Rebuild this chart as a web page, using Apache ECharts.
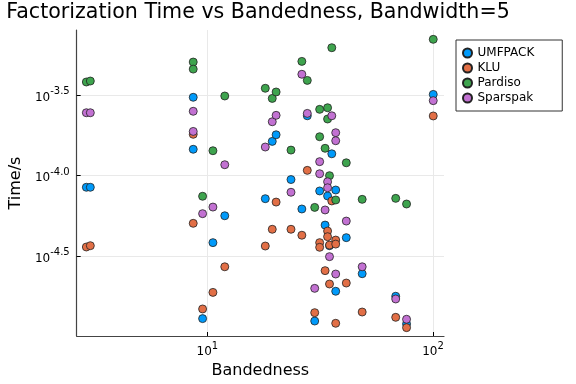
<!DOCTYPE html>
<html>
<head>
<meta charset="utf-8">
<script src="https://cdn.jsdelivr.net/npm/echarts@6/dist/echarts.min.js"></script>
<style>html,body{margin:0;padding:0;background:#fff;}#c{width:576px;height:384px;}</style>
</head>
<body>
<div id="c"></div>
<script>
// Bandedness (x) and log10(Time/s) (y) per solver
const umfpackBand = [2.91,3.03,8.66,8.66,9.53,10.59,11.95,18.07,19.40,20.18,23.49,26.24,27.74,29.92,31.47,33.27,34.12,34.80,35.62,37.07,37.07,41.30,48.57,68.39,76.39,100.3];
const umfpackLogTime = [-4.073,-4.073,-3.514,-3.837,-4.889,-4.417,-4.25,-4.144,-3.788,-3.747,-4.025,-4.208,-3.629,-4.904,-4.096,-4.308,-4.127,-4.436,-3.865,-4.09,-4.719,-4.386,-4.61,-4.75,-4.922,-3.496];

const kluBand = [2.91,3.03,8.66,8.66,9.53,10.59,11.95,18.07,19.40,20.18,23.49,26.24,27.74,29.92,31.47,31.47,33.27,34.12,34.12,34.80,34.80,35.62,37.07,37.07,37.07,41.30,48.57,68.39,76.39,100.3];
const kluLogTime = [-4.444,-4.436,-3.744,-4.297,-4.829,-4.726,-4.567,-4.438,-4.334,-4.165,-4.334,-4.371,-3.968,-4.852,-4.417,-4.446,-4.591,-4.345,-4.38,-4.432,-4.674,-4.158,-4.401,-4.426,-4.918,-4.668,-4.848,-4.881,-4.945,-3.63];

const pardisoBand = [2.91,3.03,8.66,8.66,9.53,10.59,11.95,18.07,19.40,20.18,23.49,26.24,27.74,29.92,31.47,31.47,33.27,34.12,34.12,34.80,35.62,37.07,41.30,48.57,68.39,76.39,100.3];
const pardisoLogTime = [-3.419,-3.413,-3.295,-3.339,-4.129,-3.846,-3.506,-3.458,-3.521,-3.481,-3.842,-3.291,-3.409,-4.198,-3.589,-3.759,-3.831,-3.579,-3.649,-4.001,-3.206,-4.152,-3.921,-4.148,-4.142,-4.177,-3.154];

const sparspakBand = [2.91,3.03,8.66,8.66,9.53,10.59,11.95,18.07,19.40,20.18,23.49,26.24,27.74,29.92,31.47,31.47,33.27,34.12,34.12,34.80,35.62,37.07,37.07,37.07,41.30,48.57,68.39,76.39,100.3];
const sparspakLogTime = [-3.61,-3.61,-3.601,-3.726,-4.237,-4.196,-3.933,-3.823,-3.666,-3.626,-4.104,-3.371,-3.614,-4.701,-3.914,-3.989,-4.214,-4.039,-4.076,-4.504,-3.629,-3.734,-3.784,-4.612,-4.283,-4.567,-4.767,-4.893,-3.535];

const seriesNames = ['UMFPACK','KLU','Pardiso','Sparspak'];
const seriesColors = ['#009AFA','#E26F46','#3EA44E','#C271D2'];
const xTickExponents = [1, 2];
const yTickExponents = [-4.5, -4.0, -3.5];

const bands = [umfpackBand, kluBand, pardisoBand, sparspakBand];
const times = [umfpackLogTime, kluLogTime, pardisoLogTime, sparspakLogTime];

const FONT = 'DejaVu Sans';
const rich = {
  b: {fontSize: 12, fontFamily: FONT, color: '#000', verticalAlign: 'bottom', lineHeight: 17},
  s: {fontSize: 10, fontFamily: FONT, color: '#000', verticalAlign: 'top', lineHeight: 11}
};

const chart = echarts.init(document.getElementById('c'), null, {renderer: 'canvas'});
chart.setOption({
  animation: false,
  backgroundColor: '#fff',
  title: {
    text: 'Factorization Time vs Bandedness, Bandwidth=5',
    left: 258, top: 2, padding: 0, textAlign: 'center',
    textStyle: {fontFamily: FONT, fontSize: 20.6, fontWeight: 'normal', color: '#000'}
  },
  legend: {
    orient: 'vertical', left: 456, top: 40,
    padding: [6, 28, 6, 6],
    itemWidth: 10, itemHeight: 9, itemGap: 1,
    borderColor: '#333', borderWidth: 1, borderRadius: 0,
    icon: 'circle',
    textStyle: {fontFamily: FONT, fontSize: 12, color: '#000', lineHeight: 14},
    data: seriesNames
  },
  grid: {left: 72, right: 132, top: 30, bottom: 48, containLabel: false},
  xAxis: {
    type: 'value', min: 0.421, max: 2.049,
    name: 'Bandedness', nameLocation: 'middle', nameGap: 27,
    nameTextStyle: {fontFamily: FONT, fontSize: 16, color: '#000'},
    axisLine: {show: true, onZero: false, lineStyle: {color: '#444', width: 1.2}},
    axisTick: {show: true, inside: true, length: 4, customValues: xTickExponents, lineStyle: {color: '#000'}},
    axisLabel: {customValues: xTickExponents, margin: 5, formatter: v => '{b|10}{s|' + v + '}', rich: rich},
    splitLine: {show: true, lineStyle: {color: '#e9e9e9', width: 1}}
  },
  yAxis: {
    type: 'value', min: -4.997, max: -3.096,
    name: 'Time/s', nameLocation: 'middle', nameGap: 50, nameRotate: 90,
    nameTextStyle: {fontFamily: FONT, fontSize: 16, color: '#000'},
    axisLine: {show: true, onZero: false, lineStyle: {color: '#444', width: 1.2}},
    axisTick: {show: true, inside: true, length: 4, customValues: yTickExponents, lineStyle: {color: '#000'}},
    axisLabel: {customValues: yTickExponents, margin: 7, formatter: v => '{b|10}{s|' + v.toFixed(1) + '}', rich: rich},
    splitLine: {show: true, lineStyle: {color: '#e9e9e9', width: 1}}
  },
  series: seriesNames.map((name, i) => ({
    name: name, type: 'scatter', symbol: 'circle', symbolSize: 8,
    itemStyle: {color: seriesColors[i], borderColor: '#222', borderWidth: 0.8, opacity: 1},
    emphasis: {disabled: true},
    data: bands[i].map((b, k) => [Math.log10(b), times[i][k]])
  }))
});
</script>
</body>
</html>
